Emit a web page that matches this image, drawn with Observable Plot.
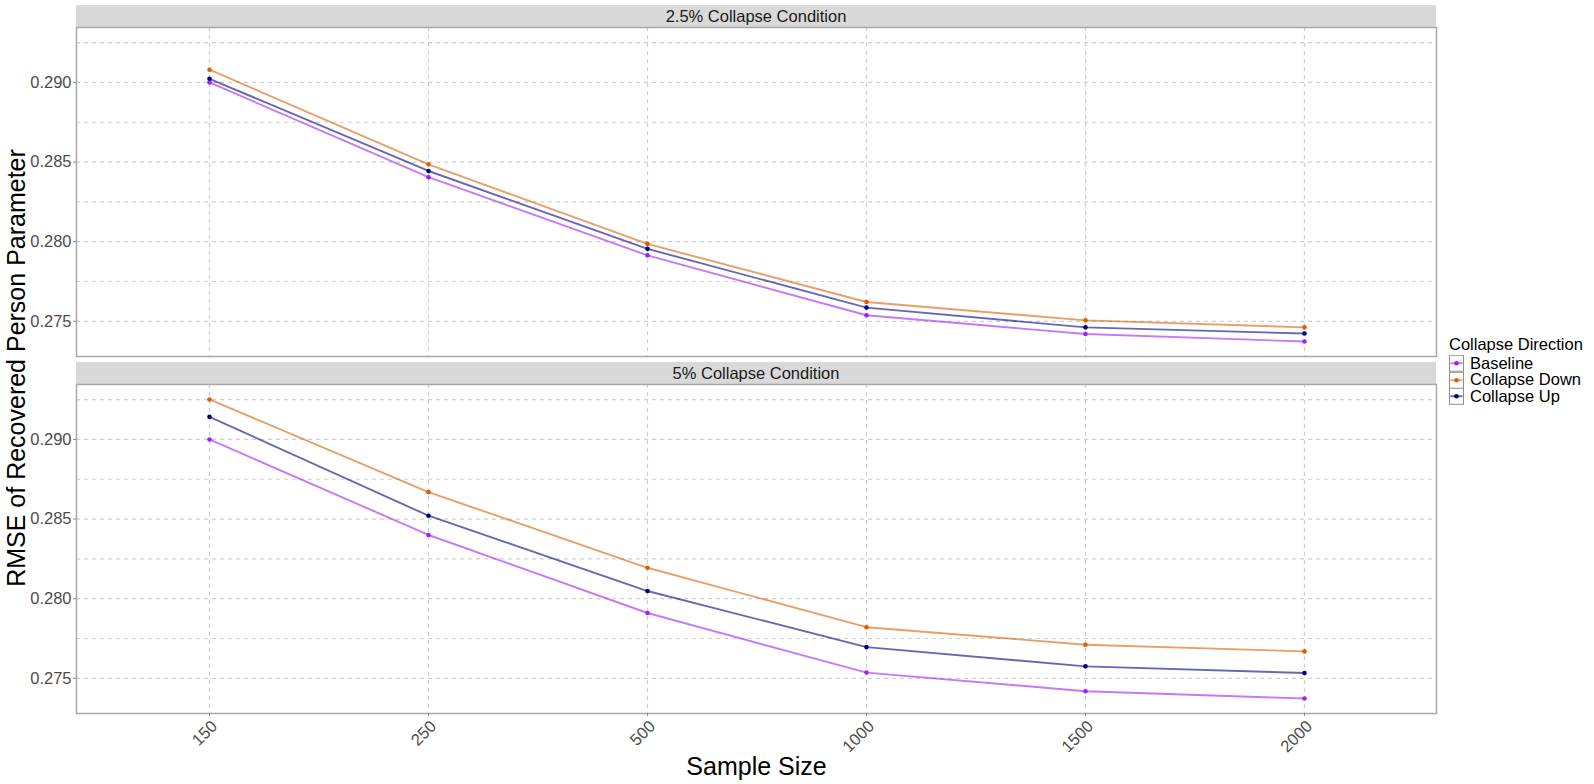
<!DOCTYPE html>
<html>
<head>
<meta charset="utf-8">
<script src="https://cdn.jsdelivr.net/npm/d3@7"></script>
<script src="https://cdn.jsdelivr.net/npm/@observablehq/plot@0.6"></script>
<style>
  html, body { margin: 0; padding: 0; background: #fff; }
  body { width: 1594px; height: 784px; overflow: hidden; font-family: "Liberation Sans", Arial, sans-serif; }
  #root { position: relative; width: 1594px; height: 784px; }
  .abs { position: absolute; }
  .strip { position: absolute; left: 76px; width: 1360px; height: 22px; background: #d9d9d9;
           color: #1a1a1a; font-size: 16.5px; line-height: 22px; text-align: center; }
  .ytitle { position: absolute; left: 16px; top: 368px; transform: translate(-50%, -50%) rotate(-90deg);
            font-size: 25px; white-space: nowrap; color: #000; }
  .legend { position: absolute; left: 1449px; top: 334px; font-size: 16.5px; color: #000; }
  .legend .title { line-height: 20px; margin-bottom: 1px; }
  .legend .row { display: flex; align-items: center; height: 16.5px; }
  .legend .row svg { display: block; margin-right: 6px; }
</style>
</head>
<body>
<div id="root"></div>
<script>
// ---- data ----
const sampleSizes = ["150", "250", "500", "1000", "1500", "2000"];
const directions = ["Baseline", "Collapse Down", "Collapse Up"];
const conditions = ["2.5% Collapse Condition", "5% Collapse Condition"];
const colors = ["#a020f0", "#d95f02", "#000080"];

// 2.5% condition
const c25Baseline = [0.2900, 0.28405, 0.27914, 0.27538, 0.27420, 0.27373];
const c25Down     = [0.29080, 0.28486, 0.27986, 0.27621, 0.27506, 0.27462];
const c25Up       = [0.29023, 0.28444, 0.27955, 0.27586, 0.27462, 0.27423];
// 5% condition
const c5Baseline  = [0.2900, 0.28400, 0.27910, 0.27536, 0.27419, 0.27373];
const c5Down      = [0.29251, 0.28669, 0.28194, 0.27821, 0.27711, 0.27669];
const c5Up        = [0.29142, 0.28521, 0.28048, 0.27696, 0.27575, 0.27533];

const yMajorTicks = [0.275, 0.280, 0.285, 0.290];
const yMinorTicks = [0.2775, 0.2825, 0.2875, 0.2925];
const yDomain = [0.27279, 0.29345];

// ---- build tidy rows ----
function rows(condition, seriesList) {
  const out = [];
  seriesList.forEach((vals, i) => {
    vals.forEach((v, j) => out.push({condition, direction: directions[i], size: sampleSizes[j], rmse: v}));
  });
  return out;
}
const data25 = rows(conditions[0], [c25Baseline, c25Down, c25Up]);
const data5 = rows(conditions[1], [c5Baseline, c5Down, c5Up]);

const root = document.getElementById("root");
const gridStyle = {stroke: "#cfcfcf", strokeOpacity: 1, strokeWidth: 1.2, strokeDasharray: "4,4"};

function panel(data, bottom) {
  const marks = [
    Plot.gridY(yMinorTicks, gridStyle),
    Plot.gridY(yMajorTicks, gridStyle),
    Plot.gridX(sampleSizes, gridStyle),
    Plot.line(data, {x: "size", y: "rmse", z: "direction", stroke: "direction", strokeOpacity: 0.6, strokeWidth: 1.9}),
    Plot.dot(data, {x: "size", y: "rmse", fill: "direction", r: 2.3}),
    Plot.frame({stroke: "#a8a8a8", strokeWidth: 1.5}),
    Plot.axisY(yMajorTicks, {tickFormat: d3.format(".3f"), tickSize: 3, tickPadding: 2, fontSize: 16.5,
      fill: "#4d4d4d", stroke: "#8c8c8c", label: null})
  ];
  if (bottom) {
    marks.push(Plot.axisX(sampleSizes, {tickRotate: -45, tickSize: 3, text: null, stroke: "#8c8c8c", label: null}));
    marks.push(Plot.axisX(sampleSizes, {tickRotate: -45, tickSize: 0, tickPadding: 10, dx: 5, fontSize: 16.5,
      fill: "#4d4d4d", label: null}));
    marks.push(Plot.text(["Sample Size"], {frameAnchor: "bottom", dy: 53, fontSize: 25, fill: "#000", lineAnchor: "middle"}));
  }
  return Plot.plot({
    width: 1594,
    height: bottom ? 401 : 331,
    marginLeft: 76,
    marginRight: 158,
    marginTop: 1,
    marginBottom: bottom ? 71 : 1,
    style: {fontFamily: "'Liberation Sans', Arial, sans-serif", background: "transparent", overflow: "visible"},
    x: {type: "point", domain: sampleSizes, padding: 0.6, label: null, axis: null},
    y: {domain: yDomain, label: null, axis: null},
    color: {domain: directions, range: colors},
    marks
  });
}

// strips
[[5, conditions[0]], [362, conditions[1]]].forEach(([top, text]) => {
  const s = document.createElement("div");
  s.className = "strip";
  s.style.top = top + "px";
  s.textContent = text;
  root.appendChild(s);
});

const p1 = panel(data25, false);
p1.classList.add("abs");
p1.style.left = "0px"; p1.style.top = "26px";
root.appendChild(p1);

const p2 = panel(data5, true);
p2.classList.add("abs");
p2.style.left = "0px"; p2.style.top = "383px";
root.appendChild(p2);

// y title
const yt = document.createElement("div");
yt.className = "ytitle";
yt.textContent = "RMSE of Recovered Person Parameter";
root.appendChild(yt);

// legend
const lg = document.createElement("div");
lg.className = "legend";
const lt = document.createElement("div");
lt.className = "title";
lt.textContent = "Collapse Direction";
lg.appendChild(lt);
directions.forEach((d, i) => {
  const row = document.createElement("div");
  row.className = "row";
  const svg = d3.create("svg").attr("width", 15).attr("height", 16.5);
  svg.append("rect").attr("x", 0.5).attr("y", 0.25).attr("width", 14).attr("height", 16)
    .attr("fill", "#fff").attr("stroke", "#8c8c8c").attr("stroke-width", 1);
  svg.append("line").attr("x1", 1.5).attr("x2", 13.5).attr("y1", 8.25).attr("y2", 8.25)
    .attr("stroke", colors[i]).attr("stroke-opacity", 0.6).attr("stroke-width", 1.9);
  svg.append("circle").attr("cx", 7.5).attr("cy", 8.25).attr("r", 2.3).attr("fill", colors[i]);
  row.appendChild(svg.node());
  const t = document.createElement("span");
  t.textContent = d;
  row.appendChild(t);
  lg.appendChild(row);
});
root.appendChild(lg);
</script>
</body>
</html>
